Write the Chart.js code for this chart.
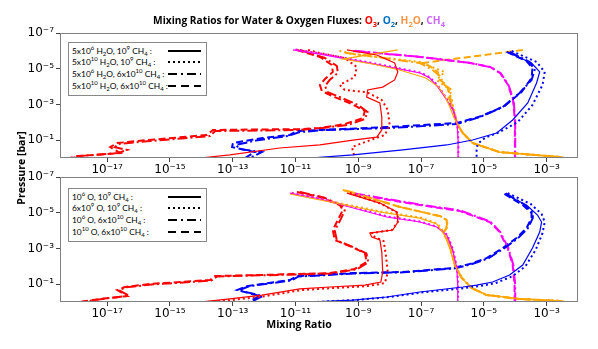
<!DOCTYPE html>
<html><head><meta charset="utf-8">
<script src="https://cdn.jsdelivr.net/npm/chart.js@4/dist/chart.umd.min.js"></script>
<style>
html,body{margin:0;padding:0;background:#fff;}
#wrap{position:relative;width:598px;height:349px;overflow:hidden;font-family:'Lato',sans-serif;color:#000;}
canvas{position:absolute;left:0;top:0;}
.title{position:absolute;top:13px;left:0;width:598px;text-align:center;font-family:'Open Sans',sans-serif;font-weight:700;font-size:10.2px;line-height:14px;white-space:nowrap;}
.ylab{position:absolute;left:-39px;top:161px;width:120px;height:14px;line-height:14px;text-align:center;font-family:'Open Sans',sans-serif;font-weight:700;font-size:10.5px;transform:rotate(-90deg);white-space:nowrap;}
.xlab{position:absolute;left:0;top:317px;width:598px;text-align:center;font-family:'Open Sans',sans-serif;font-weight:700;font-size:10.5px;line-height:14px;}
.legbox{position:absolute;border:1px solid #888;background:#fff;box-sizing:border-box;}
.legtxt{position:absolute;left:72px;font-size:8.4px;line-height:12px;white-space:nowrap;}
.legtxt sup,.legtxt sub{font-size:6px;line-height:0;}
.legtxt sup{vertical-align:4px;}
.legtxt sub{vertical-align:-2px;}
.legsvg{position:absolute;left:166px;}
</style></head>
<body><div id="wrap">
<canvas id="c1" width="598" height="349"></canvas>
<canvas id="c2" width="598" height="349"></canvas>
<div class="title">Mixing Ratios for Water &amp; Oxygen Fluxes: <span style="color:#ff0000">O<sub style="font-size:7.5px">3</sub></span>, <span style="color:#0070c0">O<sub style="font-size:7.5px">2</sub></span>, <span style="color:#f79646">H<sub style="font-size:7.5px">2</sub>O</span>, <span style="color:#cc66ff">CH<sub style="font-size:7.5px">4</sub></span></div>
<div class="ylab">Pressure [bar]</div>
<div class="xlab">Mixing Ratio</div>
<div id="legends"></div>
</div>
<script>
// ---- axis ticks (exponents of 10) ----
const xTickExps = [-17,-15,-13,-11,-9,-7,-5,-3];
const yTickExps = [-7,-5,-3,-1];

// ---- legend labels (HTML) ----
const topLegend = [
  '5x10<sup>6</sup> H<sub>2</sub>O, 10<sup>9</sup> CH<sub>4</sub> :',
  '5x10<sup>10</sup> H<sub>2</sub>O, 10<sup>9</sup> CH<sub>4</sub> :',
  '5x10<sup>6</sup> H<sub>2</sub>O, 6x10<sup>10</sup> CH<sub>4</sub> :',
  '5x10<sup>10</sup> H<sub>2</sub>O, 6x10<sup>10</sup> CH<sub>4</sub> :'
];
const botLegend = [
  '10<sup>6</sup> O, 10<sup>9</sup> CH<sub>4</sub> :',
  '6x10<sup>9</sup> O, 10<sup>9</sup> CH<sub>4</sub> :',
  '10<sup>6</sup> O, 6x10<sup>10</sup> CH<sub>4</sub> :',
  '10<sup>10</sup> O, 6x10<sup>10</sup> CH<sub>4</sub> :'
];
const species = ['O3','O2','H2O','CH4'];

// ---- profiles: each pair = [log10 mixing ratio, log10 pressure (bar)] ----
// scenario a = solid, b = dotted, c = dash-dot, d = dashed
// TOP PANEL
const top_O3_a = [[-9.36,-6.05],[-8.41,-5.77],[-7.84,-5.32],[-7.74,-4.82],[-7.84,-4.37],[-8.22,-3.97],[-8.70,-3.81],[-8.73,-3.41],[-8.31,-3.08],[-8.25,-2.29],[-8.25,-1.57],[-8.41,-1.17],[-9.17,-1.0],[-10.22,-0.73],[-11.50,-0.56],[-13.09,-0.17],[-14.04,0]];
const top_O3_b = [[-10.6,-6.05],[-10.22,-5.88],[-9.43,-5.60],[-9.05,-5.10],[-9.11,-4.54],[-9.59,-4.09],[-9.43,-3.81],[-8.73,-3.69],[-8.25,-3.25],[-8.06,-2.69],[-8.00,-1.85],[-8.15,-1.29],[-8.79,-0.89],[-9.20,-0.61],[-9.11,0]];
const top_O3_c = [[-10.86,-6.05],[-10.06,-5.60],[-9.68,-5.15],[-9.65,-4.76],[-9.91,-4.37],[-10.06,-4.03],[-9.97,-3.69],[-9.52,-3.36],[-9.01,-2.97],[-8.70,-2.57],[-8.79,-2.18],[-9.33,-1.85],[-10.16,-1.68],[-10.86,-1.57],[-13.56,-1.51],[-13.72,-1.23],[-15.63,-0.95],[-16.65,-0.78],[-16.75,-0.61],[-16.36,-0.45],[-16.65,-0.28],[-17.86,-0.11],[-18.11,0]];
const top_O3_d = [[-10.95,-6.05],[-10.22,-5.66],[-9.84,-5.21],[-9.81,-4.82],[-10.06,-4.42],[-10.22,-4.09],[-10.16,-3.75],[-9.75,-3.41],[-9.20,-3.02],[-8.79,-2.63],[-8.85,-2.24],[-9.43,-1.90],[-10.22,-1.68],[-10.86,-1.62],[-13.63,-1.57],[-13.82,-1.29],[-15.73,-1.0],[-16.68,-0.84],[-16.90,-0.61],[-16.59,-0.28],[-17.95,-0.11],[-18.18,0]];
const top_O2_a = [[-4.27,-5.94],[-3.48,-5.32],[-3.22,-4.82],[-3.32,-4.20],[-3.60,-3.08],[-4.08,-2.13],[-4.59,-1.40],[-5.36,-1.01],[-6.18,-0.73],[-7.58,-0.45],[-9.17,-0.17],[-10.54,0]];
const top_O2_b = [[-4.11,-5.99],[-3.32,-5.38],[-3.06,-4.82],[-3.13,-4.09],[-3.45,-2.97],[-3.92,-2.01],[-4.50,-1.45],[-4.97,-1.12],[-5.20,-0.78],[-5.23,-0.45],[-5.23,0]];
const top_O2_c = [[-4.18,-5.94],[-3.54,-5.38],[-3.38,-4.93],[-3.48,-4.37],[-3.86,-3.64],[-4.40,-2.85],[-5.13,-2.29],[-5.86,-1.90],[-8.00,-1.68],[-10.06,-1.57],[-10.86,-1.45],[-11.24,-1.23],[-12.20,-1.0],[-12.90,-0.73],[-12.77,-0.50],[-12.07,-0.33],[-12.45,0]];
const top_O2_d = [[-4.27,-5.94],[-3.64,-5.43],[-3.45,-5.04],[-3.48,-4.48],[-3.80,-3.69],[-4.34,-2.91],[-5.07,-2.35],[-5.86,-1.96],[-8.09,-1.73],[-10.22,-1.57],[-10.95,-1.51],[-11.18,-1.29],[-12.04,-1.12],[-12.99,-0.84],[-13.02,-0.61],[-12.29,-0.33],[-12.61,0]];
const top_H2O_a = [[-7.74,-6.05],[-9.49,-5.54],[-8.50,-5.25],[-7.68,-4.93],[-6.85,-4.48],[-6.45,-4.0],[-6.25,-3.5],[-6.09,-2.9],[-5.96,-2.3],[-5.86,-1.96],[-5.67,-1.40],[-5.36,-0.84],[-4.50,-0.33],[-2.59,-0.06],[-2.43,0]];
const top_H2O_b = [[-9.60,-6.0],[-9.17,-5.82],[-7.04,-5.38],[-6.66,-5.10],[-6.25,-4.82],[-6.50,-4.37],[-6.15,-3.92],[-6.02,-3.25],[-5.93,-2.57],[-5.86,-1.96],[-5.67,-1.40],[-5.36,-0.84],[-4.50,-0.33],[-2.59,-0.06],[-2.43,0]];
const top_H2O_c = [[-9.43,-5.9],[-7.04,-5.32],[-6.63,-4.93],[-6.40,-4.59],[-6.25,-4.09],[-6.02,-3.81],[-6.12,-3.41],[-5.96,-2.69],[-5.86,-1.96],[-5.67,-1.40],[-5.36,-0.84],[-4.50,-0.33],[-2.59,-0.06],[-2.43,0]];
const top_H2O_d = [[-3.76,-6.05],[-6.95,-5.32],[-6.72,-5.15],[-6.47,-4.82],[-6.40,-4.37],[-6.18,-4.09],[-6.09,-3.53],[-5.99,-2.80],[-5.86,-1.96],[-5.67,-1.40],[-5.36,-0.84],[-4.50,-0.33],[-2.59,-0.06],[-2.43,0]];
const top_CH4_a = [[-11.08,-6.05],[-10.22,-5.82],[-8.60,-5.30],[-7.03,-4.76],[-6.72,-4.48],[-6.46,-3.97],[-6.24,-3.41],[-5.98,-2.69],[-5.85,-1.85],[-5.82,-1.0],[-5.82,0]];
const top_CH4_b = [[-11.0,-6.08],[-10.15,-5.84],[-8.55,-5.32],[-7.0,-4.78],[-6.70,-4.50],[-6.44,-4.0],[-6.22,-3.43],[-5.97,-2.70],[-5.84,-1.86],[-5.81,-1.0],[-5.81,0]];
const top_CH4_c = [[-9.10,-6.0],[-7.0,-5.66],[-5.40,-5.32],[-4.78,-5.08],[-4.46,-4.74],[-4.21,-4.07],[-4.05,-3.23],[-4.0,-2.1],[-4.0,0]];
const top_CH4_d = [[-9.17,-5.99],[-7.03,-5.66],[-5.44,-5.32],[-4.80,-5.10],[-4.48,-4.76],[-4.23,-4.09],[-4.07,-3.25],[-4.01,-2.13],[-4.01,0]];
// BOTTOM PANEL
const bot_O3_a = [[-9.36,-6.10],[-8.31,-5.54],[-7.77,-5.04],[-7.74,-4.48],[-7.90,-4.03],[-8.63,-3.86],[-8.57,-3.64],[-8.31,-3.47],[-8.25,-2.80],[-8.22,-1.68],[-8.28,-1.12],[-8.79,-0.95],[-9.90,-0.84],[-10.86,-0.73],[-12.07,-0.39],[-13.09,-0.17],[-14.04,0]];
const bot_O3_b = [[-9.27,-6.10],[-8.25,-5.49],[-7.74,-4.98],[-7.74,-4.48],[-7.93,-4.03],[-8.57,-3.86],[-8.47,-3.64],[-8.19,-3.41],[-8.12,-2.63],[-8.06,-1.68],[-8.15,-1.06],[-8.70,-0.89],[-9.81,-0.78],[-10.80,-0.67],[-11.97,-0.33],[-13.02,-0.11],[-13.88,0]];
const bot_O3_c = [[-10.86,-6.16],[-10.10,-5.85],[-9.52,-5.40],[-9.43,-5.12],[-9.58,-4.56],[-9.75,-4.0],[-9.68,-3.45],[-9.20,-3.10],[-8.74,-2.72],[-8.68,-2.22],[-9.05,-1.83],[-9.85,-1.60],[-10.80,-1.55],[-13.50,-1.43],[-13.68,-1.20],[-15.58,-0.98],[-16.40,-0.82],[-16.62,-0.65],[-16.30,-0.35],[-17.15,-0.17],[-17.80,0]];
const bot_O3_d = [[-10.95,-6.16],[-10.22,-5.88],[-9.59,-5.43],[-9.49,-5.15],[-9.65,-4.59],[-9.81,-4.03],[-9.75,-3.47],[-9.27,-3.13],[-8.79,-2.74],[-8.73,-2.24],[-9.11,-1.85],[-9.90,-1.62],[-10.86,-1.57],[-13.56,-1.45],[-13.72,-1.23],[-15.63,-1.01],[-16.43,-0.84],[-16.68,-0.67],[-16.36,-0.33],[-17.22,-0.17],[-17.86,0]];
const bot_O2_a = [[-4.34,-6.05],[-3.64,-5.43],[-3.29,-4.87],[-3.16,-4.48],[-3.22,-3.92],[-3.45,-3.02],[-3.76,-2.07],[-4.18,-1.51],[-4.72,-1.12],[-5.23,-0.95],[-5.67,-0.84],[-7.04,-0.56],[-8.09,-0.28],[-9.17,-0.11],[-10.54,0]];
const bot_O2_b = [[-4.24,-6.10],[-3.51,-5.49],[-3.16,-4.93],[-3.06,-4.48],[-3.13,-3.86],[-3.35,-2.91],[-3.67,-2.01],[-4.08,-1.45],[-4.62,-1.06],[-5.13,-0.89],[-5.61,-0.78],[-6.98,-0.53],[-8.00,-0.28],[-9.08,-0.11],[-10.38,0]];
const bot_O2_c = [[-4.30,-6.08],[-3.70,-5.45],[-3.44,-5.0],[-3.44,-4.70],[-3.60,-4.12],[-3.92,-3.56],[-4.36,-3.0],[-4.86,-2.44],[-5.40,-2.11],[-5.95,-1.88],[-7.55,-1.66],[-9.15,-1.60],[-10.20,-1.49],[-10.90,-1.43],[-11.12,-1.21],[-12.48,-0.88],[-12.80,-0.66],[-12.05,-0.33],[-12.42,0]];
const bot_O2_d = [[-4.34,-6.05],[-3.76,-5.43],[-3.48,-4.98],[-3.48,-4.70],[-3.64,-4.14],[-3.96,-3.58],[-4.40,-3.02],[-4.91,-2.46],[-5.45,-2.13],[-5.99,-1.90],[-7.58,-1.68],[-9.17,-1.62],[-10.22,-1.51],[-10.95,-1.45],[-11.18,-1.23],[-12.55,-0.89],[-12.86,-0.67],[-12.13,-0.33],[-12.51,0]];
const bot_H2O_a = [[-11.18,-6.05],[-10.22,-5.71],[-8.31,-5.04],[-7.04,-4.70],[-6.50,-4.37],[-6.25,-3.75],[-6.09,-3.02],[-5.93,-2.07],[-5.70,-1.34],[-5.39,-0.78],[-4.91,-0.39],[-3.86,-0.17],[-2.59,-0.06],[-2.43,0]];
const bot_H2O_b = [[-11.10,-6.08],[-10.15,-5.73],[-8.25,-5.06],[-7.0,-4.72],[-6.47,-4.38],[-6.22,-3.76],[-6.07,-3.03],[-5.92,-2.08],[-5.69,-1.35],[-5.38,-0.79],[-4.90,-0.40],[-3.85,-0.17],[-2.58,-0.06],[-2.43,0]];
const bot_H2O_c = [[-9.40,-6.25],[-7.62,-5.30],[-6.38,-4.80],[-6.15,-4.57],[-6.20,-4.12],[-6.28,-3.85],[-6.13,-3.45],[-6.01,-2.90],[-5.93,-2.07],[-5.70,-1.34],[-5.39,-0.78],[-4.91,-0.39],[-3.86,-0.17],[-2.59,-0.06],[-2.43,0]];
const bot_H2O_d = [[-9.49,-6.27],[-7.68,-5.32],[-6.41,-4.82],[-6.18,-4.59],[-6.18,-4.14],[-6.31,-3.86],[-6.15,-3.47],[-6.02,-2.91],[-5.93,-2.07],[-5.70,-1.34],[-5.39,-0.78],[-4.91,-0.39],[-3.86,-0.17],[-2.59,-0.06],[-2.43,0]];
const bot_CH4_a = [[-11.18,-6.10],[-10.22,-5.77],[-8.09,-4.76],[-7.04,-4.48],[-6.50,-4.20],[-6.18,-3.75],[-5.99,-2.91],[-5.86,-1.90],[-5.83,-0.95],[-5.83,0]];
const bot_CH4_b = [[-11.12,-6.12],[-10.17,-5.79],[-8.05,-4.78],[-7.01,-4.50],[-6.48,-4.21],[-6.16,-3.76],[-5.98,-2.92],[-5.85,-1.91],[-5.82,-0.95],[-5.82,0]];
const bot_CH4_c = [[-9.10,-6.07],[-7.0,-5.45],[-5.74,-5.12],[-4.79,-4.50],[-4.48,-3.93],[-4.22,-3.03],[-4.06,-2.08],[-4.0,-0.95],[-4.0,0]];
const bot_CH4_d = [[-9.17,-6.05],[-7.04,-5.43],[-5.77,-5.10],[-4.81,-4.48],[-4.50,-3.92],[-4.24,-3.02],[-4.08,-2.07],[-4.02,-0.95],[-4.02,0]];

// ---- styles ----
const colors = {O3:'#ff0000', O2:'#0000ff', H2O:'#ffa500', CH4:'#ff00ff'};
const styles = {
  a:{w:1.2, dash:[]},
  b:{w:2, dash:[2,3]},
  c:{w:2, dash:[10,3,2,3]},
  d:{w:2, dash:[7,3.5]}
};
const profiles = {
  top:{O3:{a:top_O3_a,b:top_O3_b,c:top_O3_c,d:top_O3_d},O2:{a:top_O2_a,b:top_O2_b,c:top_O2_c,d:top_O2_d},H2O:{a:top_H2O_a,b:top_H2O_b,c:top_H2O_c,d:top_H2O_d},CH4:{a:top_CH4_a,b:top_CH4_b,c:top_CH4_c,d:top_CH4_d}},
  bot:{O3:{a:bot_O3_a,b:bot_O3_b,c:bot_O3_c,d:bot_O3_d},O2:{a:bot_O2_a,b:bot_O2_b,c:bot_O2_c,d:bot_O2_d},H2O:{a:bot_H2O_a,b:bot_H2O_b,c:bot_H2O_c,d:bot_H2O_d},CH4:{a:bot_CH4_a,b:bot_CH4_b,c:bot_CH4_c,d:bot_CH4_d}}
};

const SUP = {'-':'\u207B','0':'\u2070','1':'\u00B9','2':'\u00B2','3':'\u00B3','4':'\u2074','5':'\u2075','6':'\u2076','7':'\u2077','8':'\u2078','9':'\u2079'};
function fmt(v){const e=Math.round(Math.log10(v));return '10'+String(e).split('').map(c=>SUP[c]).join('');}

function buildDatasets(panel){
  const ds=[];
  ['a','b','c','d'].forEach(sc=>{
    species.forEach(sp=>{
      const pts = profiles[panel][sp][sc].map(([lx,lp])=>({x:Math.pow(10,lx), y:Math.pow(10,lp)}));
      ds.push({label:sp+' '+sc, data:pts, showLine:true, borderColor:colors[sp], backgroundColor:colors[sp],
        borderWidth:styles[sc].w, borderDash:styles[sc].dash, pointRadius:0, tension:0, fill:false});
    });
  });
  return ds;
}

const framePlugin = {id:'frame', afterDatasetsDraw(chart){
  const {ctx, chartArea:a}=chart; ctx.save(); ctx.setLineDash([]); ctx.strokeStyle='#808080'; ctx.lineWidth=1;
  ctx.strokeRect(Math.round(a.left)+0.5, Math.round(a.top)+0.5, Math.round(a.right-a.left)-1, Math.round(a.bottom-a.top)-1);
  ctx.restore();
}};

function makeChart(id, panel, padTop, padBottom){
  return new Chart(document.getElementById(id), {
    type:'scatter',
    data:{datasets:buildDatasets(panel)},
    options:{
      responsive:false, animation:false, events:[],
      layout:{padding:{left:0,right:20,top:padTop,bottom:padBottom}},
      plugins:{legend:{display:false}, tooltip:{enabled:false}, title:{display:false}},
      scales:{
        x:{type:'logarithmic', min:Math.pow(10,-18.5), max:Math.pow(10,-2),
          afterBuildTicks:s=>{s.ticks=xTickExps.map(e=>({value:Math.pow(10,e)}));},
          afterFit:s=>{s.height=22;},
          ticks:{callback:v=>fmt(v), font:{family:'DejaVu Sans', size:12}, color:'#000', maxRotation:0, autoSkip:false, padding:1},
          grid:{display:true, drawOnChartArea:false, drawTicks:true, tickLength:4, tickColor:'#444', color:'#444'},
          border:{display:false}},
        y:{type:'logarithmic', reverse:true, min:1e-7, max:1,
          afterBuildTicks:s=>{s.ticks=yTickExps.map(e=>({value:Math.pow(10,e)}));},
          afterFit:s=>{s.width=60;},
          ticks:{callback:v=>fmt(v), font:{family:'DejaVu Sans', size:12}, color:'#000', autoSkip:false, padding:2},
          grid:{display:true, drawOnChartArea:false, drawTicks:true, tickLength:4, tickColor:'#444', color:'#444'},
          border:{display:false}}
      }
    },
    plugins:[framePlugin]
  });
}
makeChart('c1','top',33,349-158-22);
makeChart('c2','bot',177,349-302-22);

// ---- legends (HTML) ----
const legWrap=document.getElementById('legends');
const dashes={a:'', b:'2,3', c:'9,4,2,4', d:'8,5'};
function addLegend(top, labels){
  const box=document.createElement('div'); box.className='legbox';
  Object.assign(box.style,{left:'68px',top:top+'px',width:'139px',height:'54px'});
  legWrap.appendChild(box);
  const rowY=[9,20,32,44];
  labels.forEach((t,i)=>{
    const d=document.createElement('div'); d.className='legtxt'; d.innerHTML=t; d.style.top=(top+rowY[i]-6)+'px'; legWrap.appendChild(d);
    const sc=['a','b','c','d'][i];
    const svg=document.createElementNS('http://www.w3.org/2000/svg','svg');
    svg.setAttribute('class','legsvg'); svg.setAttribute('width','38'); svg.setAttribute('height','6');
    svg.style.top=(top+rowY[i]-3)+'px';
    const ln=document.createElementNS('http://www.w3.org/2000/svg','line');
    ln.setAttribute('x1','2'); ln.setAttribute('x2','35'); ln.setAttribute('y1','3'); ln.setAttribute('y2','3');
    ln.setAttribute('stroke','#000'); ln.setAttribute('stroke-width','2');
    if(dashes[sc]) ln.setAttribute('stroke-dasharray',dashes[sc]);
    svg.appendChild(ln); legWrap.appendChild(svg);
  });
}
addLegend(42, topLegend);
addLegend(188, botLegend);
</script>
</body></html>
